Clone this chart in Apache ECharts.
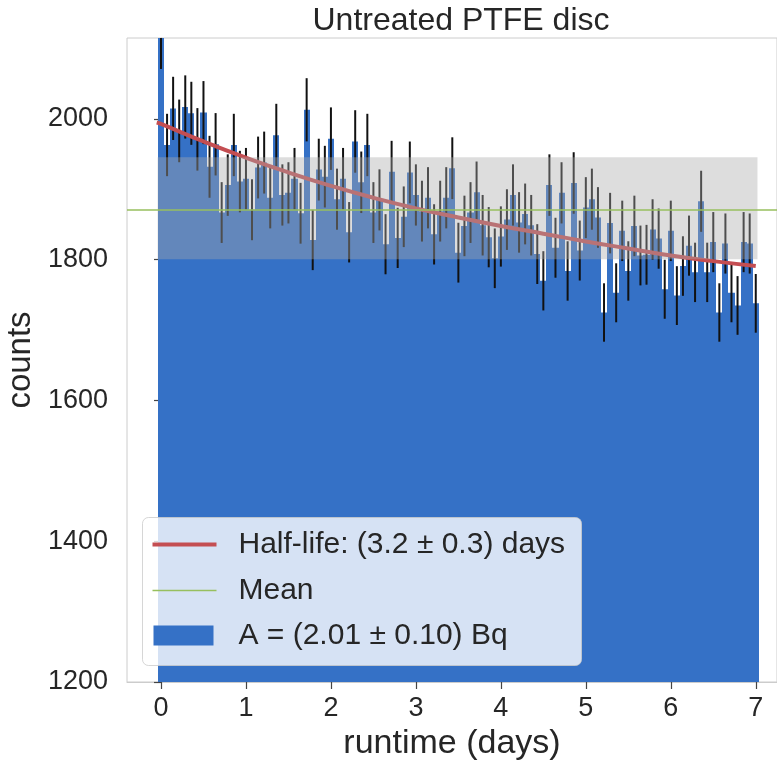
<!DOCTYPE html>
<html><head><meta charset="utf-8">
<script src="https://cdn.jsdelivr.net/npm/echarts@6/dist/echarts.min.js"></script>
<style>html,body{margin:0;padding:0;background:#fff}#c{width:777px;height:769px}</style>
</head><body><div id="c"></div><script>
// ---- data ----
const counts = [2117,1963,2015,1983,2017,2008,1971,2009,1932,1964,
1867,1906,1963,1911,1915,1871,1931,1938,1888,1977,
1892,1895,1915,1866,2013,1828,1928,1918,1972,1886,
1915,1839,1968,1910,1963,1867,1885,1822,1925,1831,
1861,1924,1892,1869,1888,1836,1869,1888,1930,1810,
1848,1867,1896,1849,1832,1802,1833,1857,1892,1853,
1865,1849,1808,1770,1906,1817,1895,1784,1909,1813,
1874,1886,1860,1725,1852,1753,1841,1784,1848,1806,
1807,1843,1830,1758,1841,1749,1791,1820,1782,1883,
1782,1825,1725,1823,1753,1735,1825,1823,1738];
const countErrors = [46.0,44.3,44.9,44.5,44.9,44.8,44.4,44.8,44.0,44.3,
43.2,43.7,44.3,43.7,43.8,43.3,43.9,44.0,43.5,44.5,
43.5,43.5,43.8,43.2,44.9,42.8,43.9,43.8,44.4,43.4,
43.8,42.9,44.4,43.7,44.3,43.2,43.4,42.7,43.9,42.8,
43.1,43.9,43.5,43.2,43.5,42.8,43.2,43.5,43.9,42.5,
43.0,43.2,43.5,43.0,42.8,42.4,42.8,43.1,43.5,43.0,
43.2,43.0,42.5,42.1,43.7,42.6,43.5,42.2,43.7,42.6,
43.3,43.4,43.1,41.5,43.0,41.9,42.9,42.2,43.0,42.5,
42.5,42.9,42.8,41.9,42.9,41.8,42.3,42.7,42.2,43.4,
42.2,42.7,41.5,42.7,41.9,41.7,42.7,42.7,41.7];
const BIN_DAYS = 1 / 14;               // sampling interval of the runs
const fitDays   = [-0.05,0,0.5,1,1.5,2,2.5,3,3.5,4,4.5,5,5.5,6,6.5,7];
const fitCounts = [1995,1993,1968,1945,1924,1905,1888,1873,1860,1848,1837,1826,1816,1806,1798,1791];
const meanCount = 1870.5;
const bandLow = 1800.5, bandHigh = 1945.5;
const bandDays = [-0.04, 7.02];
const xTicks = [0,1,2,3,4,5,6,7];
const yTicks = [1200,1400,1600,1800,2000];
const legendLabels = ['Half-life: (3.2 \u00b1 0.3) days', 'Mean', 'A = (2.01 \u00b1 0.10) Bq'];

// ---- axis ranges / styles ----
const X_MIN = -0.4, X_MAX = 7.25, Y_MIN = 1200, Y_MAX = 2115;
const FONT = "'Liberation Sans', Arial, Helvetica, sans-serif";
const TXT = '#262626';
const BLUE = '#3571c6', RED = '#c44e52', GREEN = '#97bf5e';

const barData = counts.map((v, i) => [i * BIN_DAYS, v, countErrors[i]]);

function clipRect(r, cs) {
  return echarts.graphic.clipRectByRect(r, {x: cs.x, y: cs.y, width: cs.width, height: cs.height});
}

const chart = echarts.init(document.getElementById('c'), null, {renderer: 'canvas'});
const LZ = 100;
chart.setOption({
  animation: false,
  textStyle: {fontFamily: FONT},
  title: {
    text: 'Untreated PTFE disc', left: 456, top: 0, textAlign: 'center',
    textStyle: {fontSize: 32, fontWeight: 'normal', color: TXT, fontFamily: FONT}
  },
  grid: {left: 127, right: 0, top: 38, bottom: 87, show: true, borderColor: '#cccccc', borderWidth: 1, outerBoundsMode: 'none'},
  xAxis: {
    type: 'value', min: X_MIN, max: X_MAX,
    name: 'runtime (days)', nameLocation: 'middle', nameGap: 43,
    nameTextStyle: {fontSize: 34, color: TXT, fontFamily: FONT},
    axisLine: {show: true, lineStyle: {color: '#cccccc', width: 1}},
    axisTick: {show: true, length: 7, lineStyle: {color: '#444', width: 1.2}, customValues: xTicks},
    axisLabel: {fontSize: 27, color: TXT, margin: 13, customValues: xTicks, fontFamily: FONT,
                formatter: v => String(v)},
    splitLine: {show: false}
  },
  yAxis: {
    type: 'value', min: Y_MIN, max: Y_MAX,
    name: 'counts', nameLocation: 'middle', nameGap: 82,
    nameTextStyle: {fontSize: 33, color: TXT, fontFamily: FONT},
    axisLine: {show: true, lineStyle: {color: '#cccccc', width: 1}},
    axisTick: {show: true, length: 7, lineStyle: {color: '#444', width: 1.2}, customValues: yTicks},
    axisLabel: {fontSize: 27, color: TXT, margin: 19, customValues: yTicks, fontFamily: FONT,
                formatter: v => String(v)},
    splitLine: {show: false}
  },
  series: [
    {
      name: 'bars', type: 'custom', z: 2, data: barData,
      renderItem: function (params, api) {
        const t = api.value(0), v = api.value(1);
        const p0 = api.coord([t - BIN_DAYS / 2, v]);
        const p1 = api.coord([t + BIN_DAYS / 2, Y_MIN]);
        const x0 = Math.round(p0[0]), x1 = Math.round(p1[0]);
        const shape = clipRect({x: x0, y: p0[1], width: x1 - x0, height: p1[1] - p0[1]}, params.coordSys);
        return shape && {type: 'rect', shape: shape, style: {fill: BLUE}};
      }
    },
    {
      name: 'errors', type: 'custom', z: 3, data: barData,
      renderItem: function (params, api) {
        const t = api.value(0), v = api.value(1), e = api.value(2);
        const cs = params.coordSys;
        const a = api.coord([t, v + e]), b = api.coord([t, v - e]);
        const y1 = Math.max(a[1], cs.y), y2 = Math.min(b[1], cs.y + cs.height);
        return {type: 'line', shape: {x1: a[0], y1: y1, x2: b[0], y2: y2},
                style: {stroke: '#111', lineWidth: 2}};
      }
    },
    {
      name: 'fit', type: 'line', z: 4, smooth: true, symbol: 'none',
      data: fitDays.map((d, i) => [d, fitCounts[i]]),
      lineStyle: {color: RED, width: 4}
    },
    {
      name: 'band', type: 'custom', z: 5, data: [[bandDays[0], bandLow, bandDays[1], bandHigh]],
      renderItem: function (params, api) {
        const p0 = api.coord([api.value(0), api.value(3)]);
        const p1 = api.coord([api.value(2), api.value(1)]);
        return {type: 'rect', shape: {x: p0[0], y: p0[1], width: p1[0] - p0[0], height: p1[1] - p0[1]},
                style: {fill: 'rgba(169,169,169,0.4)'}};
      }
    },
    {
      name: 'Mean', type: 'line', z: 6, symbol: 'none',
      data: [[X_MIN, meanCount], [X_MAX, meanCount]],
      lineStyle: {color: GREEN, width: 1.5}
    }
  ],
  graphic: [{
    type: 'group', left: 142, top: 517, z: LZ, zlevel: 1,
    children: [
      {type: 'rect', z: LZ, zlevel: 1, shape: {x: 0, y: 0, width: 439, height: 148, r: 6},
       style: {fill: 'rgba(255,255,255,0.8)', stroke: 'rgba(204,204,204,0.8)', lineWidth: 1}},
      {type: 'line', z: LZ + 1, zlevel: 1, shape: {x1: 10, y1: 27, x2: 74, y2: 27}, style: {stroke: RED, lineWidth: 4}},
      {type: 'line', z: LZ + 1, zlevel: 1, shape: {x1: 10, y1: 73, x2: 74, y2: 73}, style: {stroke: GREEN, lineWidth: 1.5}},
      {type: 'rect', z: LZ + 1, zlevel: 1, shape: {x: 11, y: 108, width: 60, height: 20}, style: {fill: BLUE}},
      {type: 'text', z: LZ + 1, zlevel: 1, x: 96, y: 27, style: {text: legendLabels[0], font: '30px ' + FONT, fill: TXT, verticalAlign: 'middle'}},
      {type: 'text', z: LZ + 1, zlevel: 1, x: 96, y: 73, style: {text: legendLabels[1], font: '30px ' + FONT, fill: TXT, verticalAlign: 'middle'}},
      {type: 'text', z: LZ + 1, zlevel: 1, x: 96, y: 118, style: {text: legendLabels[2], font: '30px ' + FONT, fill: TXT, verticalAlign: 'middle'}}
    ]
  }]
});
</script></body></html>
